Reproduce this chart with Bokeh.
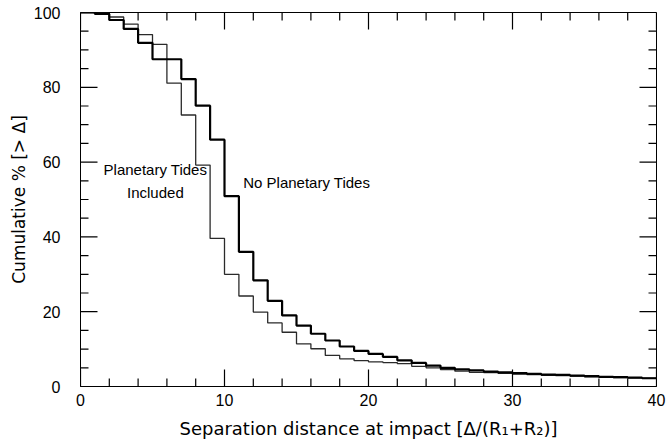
from bokeh.plotting import figure
from bokeh.models import Range1d, SingleIntervalTicker, Label
from bokeh.embed import file_html
from bokeh.resources import INLINE

# Bin edges in units of (R1+R2)
bin_edges = list(range(0, 41))

# Cumulative % [> Delta] per bin, No Planetary Tides (thick line)
no_tides = [100, 99.6, 98.0, 95.6, 91.9, 87.5, 87.5, 82.2, 75.1, 66.0,
            50.9, 36.0, 28.4, 22.9, 19.0, 16.3, 14.1, 12.3, 10.7, 9.5,
            8.7, 7.9, 7.0, 6.3, 5.6, 5.0, 4.6, 4.3, 4.0, 3.8,
            3.6, 3.4, 3.2, 3.1, 2.9, 2.8, 2.6, 2.5, 2.35, 2.2]

# Cumulative % [> Delta] per bin, Planetary Tides Included (thin line)
tides = [100, 99.8, 98.8, 96.9, 94.1, 91.5, 81.1, 72.6, 59.2, 39.6,
         30.0, 24.2, 19.9, 17.0, 14.5, 11.4, 10.1, 8.3, 7.4, 6.9,
         6.6, 6.4, 6.1, 5.4, 5.0, 4.5, 4.1, 3.8, 3.7, 3.5,
         3.3, 3.2, 3.0, 2.9, 2.8, 2.6, 2.5, 2.4, 2.3, 2.2]

# Tick locations
x_major_ticks = [0, 10, 20, 30, 40]
x_minor_ticks = [v for v in range(0, 41, 2) if v % 10]
y_major_ticks = [0, 20, 40, 60, 80, 100]
y_minor_ticks = [v for v in range(0, 101, 5) if v % 20]

X0, X1, Y0, Y1 = 0, 40, 0, 100
W, H = 666, 443
BL, BR, BT, BB = 80, 10, 12, 57
FW, FH = W - BL - BR, H - BT - BB   # frame size in pixels

p = figure(width=W, height=H, output_backend="svg", toolbar_location=None,
           x_range=Range1d(X0, X1), y_range=Range1d(Y0, Y1),
           min_border_left=BL, min_border_right=BR, min_border_top=BT, min_border_bottom=BB)
p.background_fill_color = "white"
p.border_fill_color = "white"
p.outline_line_color = "black"
p.outline_line_width = 1
p.xgrid.visible = False
p.ygrid.visible = False

p.step(bin_edges, tides + [tides[-1]], mode="after", line_color="#2a2a2a", line_width=1.3)
p.step(bin_edges, no_tides + [no_tides[-1]], mode="after", line_color="black", line_width=2.2)

# Inward ticks on all four sides (lengths converted from pixels to data units)
MAJ, MIN = 17, 8
px_x = (X1 - X0) / FW
px_y = (Y1 - Y0) / FH

def vticks(xs, length_px):
    n = len(xs)
    ly = length_px * px_y
    p.segment(x0=xs, y0=[Y0] * n, x1=xs, y1=[Y0 + ly] * n, line_color="black", line_width=1.2)
    p.segment(x0=xs, y0=[Y1] * n, x1=xs, y1=[Y1 - ly] * n, line_color="black", line_width=1.2)

def hticks(ys, length_px):
    n = len(ys)
    lx = length_px * px_x
    p.segment(x0=[X0] * n, y0=ys, x1=[X0 + lx] * n, y1=ys, line_color="black", line_width=1.2)
    p.segment(x0=[X1] * n, y0=ys, x1=[X1 - lx] * n, y1=ys, line_color="black", line_width=1.2)

vticks(x_major_ticks, MAJ)
vticks(x_minor_ticks, MIN)
hticks(y_major_ticks, MAJ)
hticks(y_minor_ticks, MIN)

p.xaxis.ticker = SingleIntervalTicker(interval=10, num_minor_ticks=0)
p.yaxis.ticker = SingleIntervalTicker(interval=20, num_minor_ticks=0)
for ax in list(p.xaxis) + list(p.yaxis):
    ax.major_tick_in = 0
    ax.major_tick_out = 0
    ax.minor_tick_in = 0
    ax.minor_tick_out = 0
    ax.axis_line_color = "black"
    ax.major_label_text_font = "Liberation Sans"
    ax.major_label_text_font_size = "16px"
    ax.major_label_text_color = "black"
    ax.axis_label_text_font = "DejaVu Sans"
    ax.axis_label_text_font_style = "normal"
    ax.axis_label_text_color = "black"
for ax in p.xaxis:
    ax.major_label_standoff = 7
    ax.axis_label_standoff = 9
    ax.axis_label_text_font_size = "18px"
    ax.axis_label = "Separation distance at impact [\u0394/(R\u2081+R\u2082)]"
for ax in p.yaxis:
    ax.major_label_standoff = 20
    ax.axis_label_standoff = 2
    ax.axis_label_text_font_size = "17px"
    ax.axis_label = "Cumulative % [> \u0394]"

for txt, xx, yy in [("Planetary Tides", 5.2, 57.9), ("Included", 5.2, 52.0)]:
    p.add_layout(Label(x=xx, y=yy, text=txt, text_font="Liberation Sans", text_font_size="15px",
                       text_align="center", text_baseline="middle", text_color="black"))
p.add_layout(Label(x=11.3, y=54.6, text="No Planetary Tides", text_font="Liberation Sans",
                   text_font_size="15px", text_align="left", text_baseline="middle", text_color="black"))

open("out.html", "w").write(file_html(p, INLINE))
